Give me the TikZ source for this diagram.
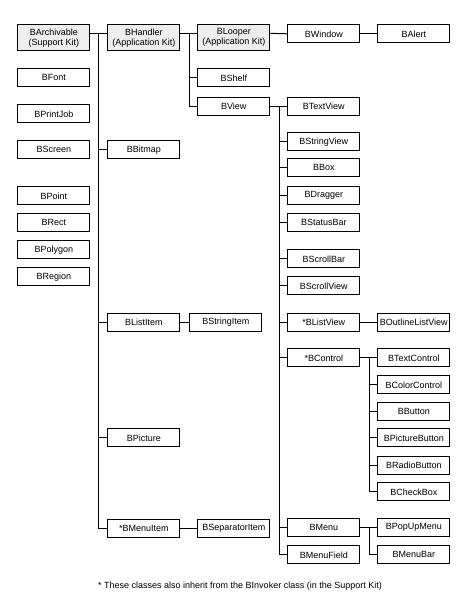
\documentclass[tikz,border=0pt]{standalone}
\usepackage{fontspec}
\setmainfont{Liberation Sans}
\begin{document}
\begin{tikzpicture}[x=1pt,y=-1pt,
  cls/.style={draw=black,line width=1pt,fill=white,minimum width=72pt,minimum height=18pt,inner sep=0pt,font=\fontsize{9}{10}\selectfont,anchor=north west},
  kit/.style={cls,fill=gray!13,minimum height=26pt,align=center},
  link/.style={line width=1pt}]
\useasboundingbox (0,0) rectangle (467,603);
% top row
\node[kit] (arch) at (17.3,24.3) {BArchivable\\(Support Kit)};
\node[kit] (hand) at (107.3,24.3) {BHandler\\(Application Kit)};
\node[kit] (loop) at (197.3,24.3) {BLooper\\(Application Kit)};
\node[cls] (win) at (287.3,24.3) {BWindow};
\node[cls] (alert) at (377.3,24.3) {BAlert};
% standalone column
\node[cls] (font) at (17.3,68.3) {BFont};
\node[cls] (pjob) at (17.3,104.3) {BPrintJob};
\node[cls] (scr) at (17.3,140.3) {BScreen};
\node[cls] (pt) at (17.3,186.3) {BPoint};
\node[cls] (rect) at (17.3,213.3) {BRect};
\node[cls] (poly) at (17.3,240.3) {BPolygon};
\node[cls] (reg) at (17.3,267.3) {BRegion};
% archivable children
\node[cls] (bmp) at (107.3,140.3) {BBitmap};
\node[cls] (litem) at (107.3,312.7) {BListItem};
\node[cls] (sitem) at (189.3,312.7) {BStringItem};
\node[cls] (pic) at (107.3,428.3) {BPicture};
\node[cls] (mitem) at (107.3,518.7) {*BMenuItem};
\node[cls] (sep) at (197.3,518.7) {BSeparatorItem};
% handler children
\node[cls] (shelf) at (197.3,68.3) {BShelf};
\node[cls] (view) at (197.3,96.7) {BView};
% view children
\node[cls] (tview) at (287.3,96.7) {BTextView};
\node[cls] (sview) at (287.3,132.3) {BStringView};
\node[cls] (box) at (287.3,158.3) {BBox};
\node[cls] (drag) at (287.3,185.7) {BDragger};
\node[cls] (sbar) at (287.3,213.3) {BStatusBar};
\node[cls] (scbar) at (287.3,249.3) {BScrollBar};
\node[cls] (scview) at (287.3,276.3) {BScrollView};
\node[cls] (lview) at (287.3,312.7) {*BListView};
\node[cls] (olview) at (377.3,312.7) {BOutlineListView};
\node[cls] (ctrl) at (287.3,348.3) {*BControl};
\node[cls] (tctrl) at (377.3,348.3) {BTextControl};
\node[cls] (cctrl) at (377.3,375.3) {BColorControl};
\node[cls] (btn) at (377.3,402.3) {BButton};
\node[cls] (pbtn) at (377.3,428.3) {BPictureButton};
\node[cls] (rbtn) at (377.3,455.7) {BRadioButton};
\node[cls] (cbox) at (377.3,482.3) {BCheckBox};
\node[cls] (menu) at (287.3,518.3) {BMenu};
\node[cls] (pmenu) at (377.3,518.3) {BPopUpMenu};
\node[cls] (mfield) at (287.3,545.3) {BMenuField};
\node[cls] (mbar) at (377.3,545.3) {BMenuBar};
% trunk coordinates
\coordinate (ta) at (98.3,33.3);
\coordinate (th) at (189.3,33.3);
\coordinate (tv) at (279.3,105.7);
\coordinate (tc) at (369.3,357.3);
\coordinate (tm) at (369.3,527.3);
% BArchivable tree
\draw[link] (arch.east |- ta) -- (hand.west |- ta);
\draw[link] (ta) |- (mitem.west);
\foreach \n in {bmp,litem,pic} \draw[link] (ta |- \n.west) -- (\n.west);
\draw[link] (litem) -- (sitem);
\draw[link] (mitem) -- (sep);
% BHandler tree
\draw[link] (hand.east |- th) -- (loop.west |- th);
\draw[link] (th) |- (view.west);
\draw[link] (th |- shelf.west) -- (shelf.west);
\draw[link] (loop.east |- th) -- (win.west);
\draw[link] (win) -- (alert);
% BView tree
\draw[link] (view) -- (tview);
\draw[link] (tv) |- (mfield.west);
\foreach \n in {sview,box,drag,sbar,scbar,scview,lview,ctrl,menu} \draw[link] (tv |- \n.west) -- (\n.west);
\draw[link] (lview) -- (olview);
% BControl tree
\draw[link] (ctrl) -- (tctrl);
\draw[link] (tc) |- (cbox.west);
\foreach \n in {cctrl,btn,pbtn,rbtn} \draw[link] (tc |- \n.west) -- (\n.west);
% BMenu tree
\draw[link] (menu) -- (pmenu);
\draw[link] (tm) |- (mbar.west);
% footnote
\node[font=\fontsize{9}{10}\selectfont,anchor=west,inner sep=0pt] (note) at (98,586) {* These classes also inherit from the BInvoker class (in the Support Kit)};
\end{tikzpicture}
\end{document}
